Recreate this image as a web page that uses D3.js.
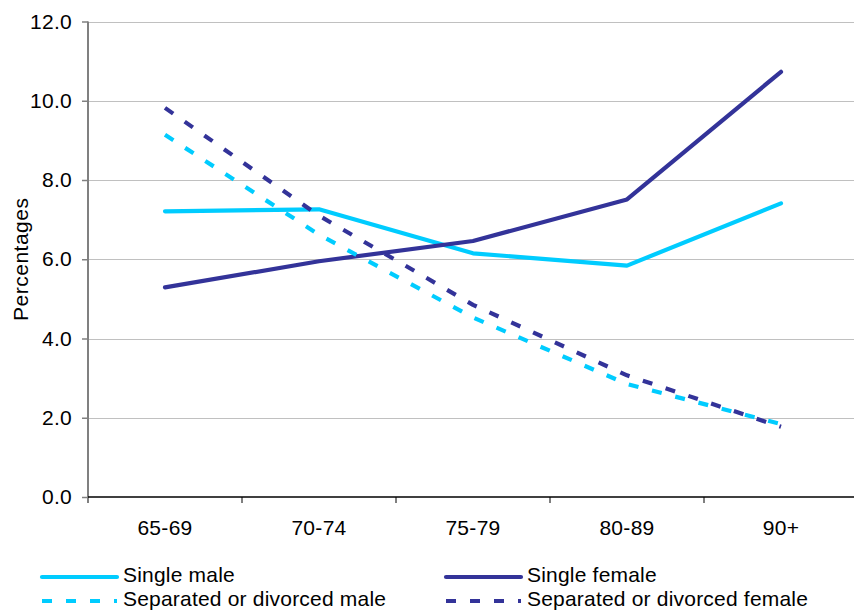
<!DOCTYPE html>
<html>
<head>
<meta charset="utf-8">
<script src="https://cdn.jsdelivr.net/npm/d3@7"></script>
<style>
  html, body { margin: 0; padding: 0; background: #fff; }
  svg { display: block; }
  text { font-family: "Liberation Sans", Arial, sans-serif; fill: #000; }
</style>
</head>
<body>
<svg id="chart" width="854" height="612"></svg>
<script>
const categories = ["65-69", "70-74", "75-79", "80-89", "90+"];
const singleMale = [7.21, 7.26, 6.15, 5.84, 7.41];
const singleFemale = [5.29, 5.95, 6.46, 7.51, 10.73];
const separatedMale = [9.14, 6.62, 4.53, 2.85, 1.84];
const separatedFemale = [9.82, 7.10, 4.85, 3.07, 1.77];
const yTicks = [0, 2, 4, 6, 8, 10, 12];
const seriesNames = ["Single male", "Single female", "Separated or divorced male", "Separated or divorced female"];

const series = [
  { name: seriesNames[0], values: singleMale, color: "#00CCFF", dash: null },
  { name: seriesNames[1], values: singleFemale, color: "#333399", dash: null },
  { name: seriesNames[2], values: separatedMale, color: "#00CCFF", dash: "10,14" },
  { name: seriesNames[3], values: separatedFemale, color: "#333399", dash: "10,14" }
];

const svg = d3.select("#chart");
const pLeft = 88, pRight = 858, pTop = 21.5, pBottom = 497;
const FS = 21;

const x = d3.scaleBand().domain(categories).range([pLeft, pRight]);
const y = d3.scaleLinear().domain([0, 12]).range([pBottom, pTop]);

// gridlines
svg.append("g")
  .selectAll("line")
  .data(yTicks.filter(d => d > 0))
  .join("line")
  .attr("x1", pLeft).attr("x2", 854)
  .attr("y1", d => Math.round(y(d)) + 0.5).attr("y2", d => Math.round(y(d)) + 0.5)
  .attr("stroke", "#c0c0c0").attr("stroke-width", 1.2);

// y axis
const yAxis = svg.append("g")
  .attr("transform", `translate(${pLeft},0)`)
  .call(d3.axisLeft(y).tickValues(yTicks).tickFormat(d3.format(".1f")).tickSize(6).tickPadding(10));
yAxis.select(".domain").remove();
yAxis.selectAll(".tick line").attr("stroke", "#808080").attr("stroke-width", 1.5);
yAxis.selectAll(".tick text")
  .attr("font-size", FS).attr("letter-spacing", 0.3)
  .attr("font-family", "Liberation Sans, Arial, sans-serif").attr("fill", "#000");
svg.append("line")
  .attr("x1", pLeft).attr("x2", pLeft)
  .attr("y1", pTop).attr("y2", pBottom + 6)
  .attr("stroke", "#808080").attr("stroke-width", 2);

// x axis
const xAxis = svg.append("g")
  .attr("transform", `translate(0,${pBottom})`)
  .call(d3.axisBottom(x).tickSize(0).tickPadding(23));
xAxis.select(".domain").remove();
xAxis.selectAll(".tick text")
  .attr("font-size", FS).attr("letter-spacing", 0.3)
  .attr("font-family", "Liberation Sans, Arial, sans-serif").attr("fill", "#000");
svg.append("line")
  .attr("x1", pLeft).attr("x2", 854)
  .attr("y1", pBottom).attr("y2", pBottom)
  .attr("stroke", "#000").attr("stroke-width", 1.5);
// category boundary ticks
svg.append("g")
  .selectAll("line")
  .data(categories.slice(1))
  .join("line")
  .attr("x1", d => x(d)).attr("x2", d => x(d))
  .attr("y1", pBottom).attr("y2", pBottom + 6)
  .attr("stroke", "#000").attr("stroke-width", 1);

// y label
svg.append("text")
  .attr("transform", `translate(28,${(pTop + pBottom) / 2}) rotate(-90)`)
  .attr("text-anchor", "middle")
  .attr("font-size", FS)
  .attr("letter-spacing", 0.5)
  .text("Percentages");

// lines
const line = d3.line()
  .x((d, i) => x(categories[i]) + x.bandwidth() / 2)
  .y(d => y(d));

svg.append("g")
  .selectAll("path")
  .data(series)
  .join("path")
  .attr("d", d => line(d.values))
  .attr("fill", "none")
  .attr("stroke", d => d.color)
  .attr("stroke-width", 4.2)
  .attr("stroke-linejoin", "round")
  .attr("stroke-linecap", d => d.dash ? "butt" : "round")
  .attr("stroke-dasharray", d => d.dash);

// legend
const legendPos = [
  { lx: 42, ly: 577 },
  { lx: 446, ly: 577 },
  { lx: 42, ly: 601 },
  { lx: 446, ly: 601 }
];
const legend = svg.append("g")
  .selectAll("g")
  .data(series)
  .join("g")
  .attr("transform", (d, i) => `translate(${legendPos[i].lx},${legendPos[i].ly})`);
legend.append("line")
  .attr("x1", 0).attr("x2", 75)
  .attr("y1", 0).attr("y2", 0)
  .attr("stroke", d => d.color)
  .attr("stroke-width", 4.2)
  .attr("stroke-linecap", d => d.dash ? "butt" : "round")
  .attr("stroke-dasharray", d => d.dash);
legend.append("text")
  .attr("x", 81)
  .attr("y", 5)
  .attr("font-size", FS)
  .attr("letter-spacing", 0.2)
  .text(d => d.name);
</script>
</body>
</html>
